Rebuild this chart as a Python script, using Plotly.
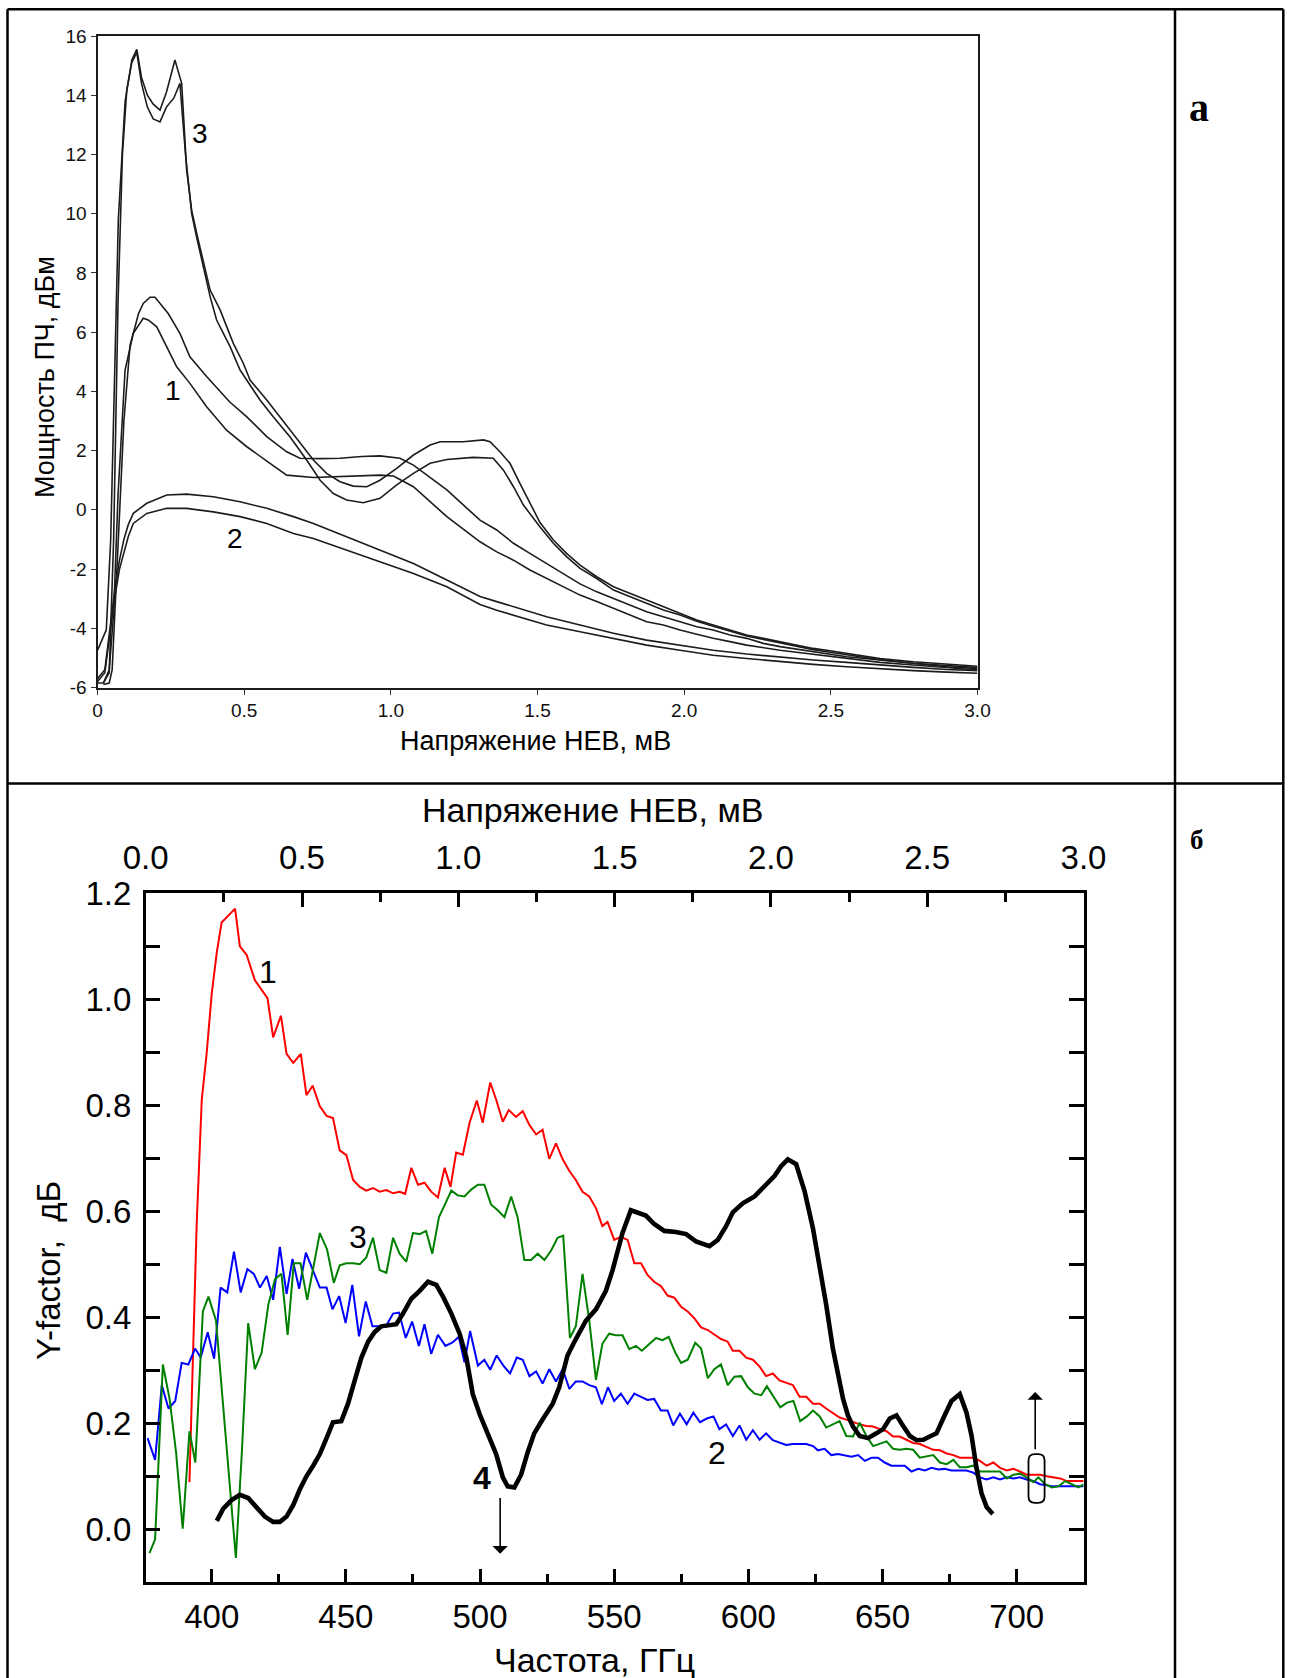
import plotly.graph_objects as go

W, H = 1290, 1678

# ---------------- panel (a): IF power vs HEB bias voltage ----------------
V_1A = [0.02, 0.04, 0.05, 0.07, 0.09, 0.111, 0.14, 0.156, 0.179, 0.196, 0.241, 0.281, 0.315, 0.372, 0.40,
        0.45, 0.509, 0.577, 0.645, 0.690, 0.760, 0.827, 0.900, 0.963, 1.031, 1.077, 1.191, 1.304, 1.361,
        1.418, 1.474, 1.531, 1.588, 1.645, 1.702, 1.759, 1.815, 1.872, 1.929, 1.986, 2.043, 2.099, 2.156,
        2.213, 2.270, 2.327, 2.440, 2.554, 2.668, 2.781, 2.895, 3.0]
P_1A = [-5.9, -5.85, -5.4, -1.0, 3.0, 5.56, 6.63, 6.97, 7.18, 7.18, 6.63, 5.96, 5.17, 4.50, 4.2,
        3.65, 3.14, 2.47, 1.96, 1.74, 1.73, 1.74, 1.80, 1.82, 1.74, 1.51, 0.67, -0.35, -0.68,
        -1.13, -1.47, -1.81, -2.15, -2.50, -2.77, -2.99, -3.22, -3.44, -3.61, -3.78, -3.95, -4.06, -4.23,
        -4.34, -4.51, -4.62, -4.79, -4.96, -5.07, -5.19, -5.30, -5.36]

V_1B = [0.02, 0.04, 0.055, 0.07, 0.094, 0.122, 0.156, 0.173, 0.202, 0.236, 0.270, 0.315, 0.349, 0.372,
        0.44, 0.509, 0.588, 0.645, 0.736, 0.850, 0.963, 1.009, 1.077, 1.191, 1.304, 1.361, 1.418, 1.474,
        1.531, 1.588, 1.645, 1.702, 1.759, 1.815, 1.872, 1.929, 1.986, 2.043, 2.099, 2.156, 2.213, 2.327,
        2.440, 2.554, 2.668, 2.781, 2.895, 3.0]
P_1B = [-5.85, -5.4, -3.5, 0.5, 4.72, 5.96, 6.47, 6.41, 6.18, 5.51, 4.83, 4.27, 3.82, 3.48,
        2.69, 2.13, 1.57, 1.17, 1.09, 1.12, 1.17, 1.14, 0.78, -0.23, -1.08, -1.42, -1.70, -2.03,
        -2.32, -2.60, -2.88, -3.10, -3.33, -3.55, -3.78, -3.89, -4.06, -4.20, -4.34, -4.45, -4.57, -4.74,
        -4.87, -5.02, -5.15, -5.24, -5.32, -5.41]

V_2A = [0.0, 0.025, 0.045, 0.06, 0.075, 0.09, 0.105, 0.122, 0.168, 0.236, 0.304, 0.395, 0.486, 0.577,
        0.668, 0.736, 0.849, 0.963, 1.077, 1.191, 1.304, 1.361, 1.418, 1.474, 1.531, 1.645, 1.759, 1.872,
        1.986, 2.099, 2.213, 2.327, 2.440, 2.554, 2.668, 2.781, 2.895, 3.0]
P_2A = [-5.7, -5.4, -3.8, -2.6, -1.7, -1.0, -0.5, -0.12, 0.22, 0.50, 0.53, 0.44, 0.27, 0.05,
        -0.23, -0.46, -0.91, -1.36, -1.81, -2.37, -2.93, -3.10, -3.27, -3.44, -3.61, -3.89, -4.17, -4.40,
        -4.57, -4.74, -4.87, -4.98, -5.07, -5.15, -5.24, -5.32, -5.39, -5.43]

V_2B = [0.0, 0.025, 0.045, 0.06, 0.075, 0.09, 0.105, 0.122, 0.168, 0.236, 0.304, 0.395, 0.486, 0.577,
        0.668, 0.736, 0.849, 0.963, 1.077, 1.191, 1.304, 1.361, 1.418, 1.474, 1.531, 1.645, 1.759, 1.872,
        1.986, 2.099, 2.213, 2.327, 2.440, 2.554, 2.668, 2.781, 2.895, 3.0]
P_2B = [-5.8, -5.5, -4.0, -2.9, -2.0, -1.4, -0.9, -0.46, -0.12, 0.05, 0.05, -0.07, -0.23, -0.46,
        -0.80, -0.97, -1.36, -1.75, -2.15, -2.60, -3.20, -3.39, -3.55, -3.72, -3.89, -4.12, -4.34, -4.57,
        -4.74, -4.91, -5.02, -5.13, -5.22, -5.30, -5.37, -5.43, -5.48, -5.52]

V_3A = [0.0, 0.03, 0.045, 0.06, 0.071, 0.094, 0.117, 0.134, 0.15, 0.17, 0.19, 0.213, 0.235, 0.264,
        0.287, 0.304, 0.321, 0.338, 0.361, 0.384, 0.418, 0.463, 0.497, 0.520, 0.577, 0.622, 0.679, 0.736,
        0.781, 0.827, 0.872, 0.918, 0.963, 1.020, 1.077, 1.134, 1.168, 1.247, 1.316, 1.338, 1.372, 1.406,
        1.440, 1.474, 1.508, 1.554, 1.599, 1.645, 1.702, 1.759, 1.815, 1.872, 1.929, 1.986, 2.043, 2.099,
        2.156, 2.213, 2.270, 2.327, 2.383, 2.440, 2.497, 2.554, 2.668, 2.781, 2.895, 3.0]
P_3A = [-4.75, -4.05, -1.0, 5.3, 9.8, 13.78, 15.19, 15.55, 14.6, 14.0, 13.7, 13.5, 14.1, 15.19,
        14.4, 11.47, 10.12, 9.34, 8.43, 7.42, 6.75, 5.62, 4.95, 4.38, 3.71, 3.14, 2.41, 1.68,
        1.23, 0.95, 0.80, 0.78, 1.0, 1.40, 1.85, 2.19, 2.30, 2.30, 2.36, 2.30, 1.96, 1.57,
        0.89, 0.25, -0.42, -1.02, -1.47, -1.87, -2.26, -2.60, -2.82, -3.05, -3.27, -3.50, -3.72, -3.89,
        -4.06, -4.23, -4.34, -4.45, -4.57, -4.68, -4.76, -4.85, -5.02, -5.13, -5.21, -5.28]

V_3B = [0.0, 0.02, 0.04, 0.055, 0.07, 0.085, 0.1, 0.117, 0.134, 0.15, 0.17, 0.19, 0.213, 0.235, 0.26,
        0.281, 0.3, 0.321, 0.338, 0.361, 0.384, 0.406, 0.452, 0.486, 0.554, 0.599, 0.656, 0.713, 0.759,
        0.804, 0.849, 0.906, 0.963, 1.020, 1.077, 1.134, 1.191, 1.281, 1.349, 1.384, 1.418, 1.452, 1.486,
        1.508, 1.554, 1.599, 1.645, 1.702, 1.759, 1.815, 1.872, 1.929, 1.986, 2.043, 2.099, 2.156, 2.213,
        2.270, 2.327, 2.383, 2.440, 2.497, 2.554, 2.668, 2.781, 2.895, 3.0]
P_3B = [-5.85, -5.85, -5.5, -1.0, 7.0, 12.0, 14.2, 15.1, 15.45, 14.4, 13.6, 13.2, 13.1, 13.6, 13.9,
        14.4, 12.0, 10.0, 9.2, 8.2, 7.2, 6.41, 5.51, 4.72, 3.71, 3.14, 2.47, 1.68, 1.0,
        0.55, 0.33, 0.24, 0.39, 0.84, 1.23, 1.57, 1.70, 1.77, 1.74, 1.34, 0.78, 0.16, -0.29,
        -0.57, -1.13, -1.58, -1.98, -2.32, -2.71, -2.93, -3.16, -3.38, -3.55, -3.76, -3.93, -4.10, -4.26,
        -4.38, -4.50, -4.61, -4.72, -4.81, -4.90, -5.06, -5.18, -5.26, -5.33]

A_XTICKS = [0, 0.5, 1.0, 1.5, 2.0, 2.5, 3.0]
A_XTEXT = ["0", "0.5", "1.0", "1.5", "2.0", "2.5", "3.0"]
A_YTICKS = [16, 14, 12, 10, 8, 6, 4, 2, 0, -2, -4, -6]
A_YTEXT = ["16", "14", "12", "10", "8", "6", "4", "2", "0", "-2", "-4", "-6"]

# ---------------- panel (б): Y-factor vs LO frequency ----------------
F_1 = [391.7, 392.2, 393.2, 394.4, 396.3, 398.1, 400.0, 401.9, 403.7, 406.2, 408.7, 410.5, 413.0, 416.1,
       418.6, 420.8, 422.9, 425.8, 427.9, 430.4, 433.2, 435.3, 437.6, 440.3, 442.8, 445.2, 447.7, 450.2,
       452.7, 455.2, 457.6, 460.1, 462.6, 465.1, 467.6, 470.0, 472.1, 474.4, 476.9, 479.3, 481.8, 484.3,
       486.8, 489.0, 491.1, 493.6, 496.1, 498.8, 501.0, 503.8, 506.0, 508.5, 510.7, 513.4, 515.9, 518.4,
       520.9, 523.3, 525.8, 528.3, 530.8, 533.3, 535.7, 538.2, 540.7, 543.2, 545.6, 547.5, 550.0, 552.5,
       555.0, 557.5, 560.0, 562.4, 564.9, 567.4, 569.9, 572.4, 574.9, 577.4, 579.9, 582.4, 584.9, 587.3,
       589.8, 592.3, 594.2, 596.7, 599.2, 601.7, 604.2, 606.6, 609.1, 611.6, 614.1, 616.6, 619.1, 621.6,
       624.1, 626.6, 629.0, 631.5, 634.0, 636.5, 639.0, 641.5, 644.0, 646.5, 649.0, 651.5, 653.9, 656.4,
       658.9, 661.4, 663.9, 666.4, 668.9, 671.4, 673.9, 676.4, 678.8, 681.3, 683.8, 686.3, 688.8, 691.3,
       693.8, 696.3, 698.8, 701.2, 703.7, 706.2, 708.7, 711.2, 713.7, 716.2, 718.7, 721.2, 725.0]
Y_1 = [0.089, 0.185, 0.359, 0.576, 0.811, 0.897, 1.010, 1.089, 1.145, 1.158, 1.171, 1.100, 1.084, 1.036,
       1.019, 1.002, 0.928, 0.969, 0.897, 0.880, 0.897, 0.819, 0.837, 0.798, 0.780, 0.776, 0.715, 0.706,
       0.659, 0.646, 0.639, 0.644, 0.637, 0.640, 0.634, 0.637, 0.633, 0.682, 0.650, 0.654, 0.637, 0.626,
       0.682, 0.646, 0.711, 0.707, 0.767, 0.809, 0.767, 0.843, 0.811, 0.769, 0.791, 0.778, 0.789, 0.763,
       0.745, 0.754, 0.699, 0.728, 0.698, 0.676, 0.659, 0.637, 0.628, 0.606, 0.572, 0.580, 0.546, 0.552,
       0.546, 0.502, 0.502, 0.480, 0.467, 0.459, 0.441, 0.437, 0.420, 0.411, 0.398, 0.381, 0.376, 0.368,
       0.359, 0.354, 0.337, 0.337, 0.324, 0.320, 0.307, 0.289, 0.294, 0.281, 0.276, 0.272, 0.250, 0.250,
       0.237, 0.237, 0.228, 0.220, 0.211, 0.207, 0.202, 0.198, 0.195, 0.194, 0.189, 0.185, 0.175, 0.175,
       0.169, 0.163, 0.161, 0.155, 0.150, 0.149, 0.143, 0.140, 0.135, 0.135, 0.135, 0.129, 0.120, 0.126,
       0.116, 0.111, 0.114, 0.109, 0.103, 0.103, 0.103, 0.100, 0.098, 0.096, 0.091, 0.091, 0.091]

F_2 = [376.1, 378.9, 381.4, 383.9, 386.4, 388.8, 391.3, 393.8, 395.9, 398.5, 400.9, 403.3, 405.8, 408.3,
       410.8, 413.3, 415.7, 418.0, 420.5, 422.9, 425.4, 427.9, 430.1, 432.6, 435.1, 437.8, 440.3, 442.8,
       445.0, 447.5, 449.9, 452.4, 454.9, 457.4, 459.9, 462.6, 465.1, 467.6, 469.8, 472.3, 474.7, 477.2,
       479.3, 481.8, 484.3, 487.1, 489.6, 492.1, 494.2, 496.3, 499.2, 501.6, 503.8, 506.2, 508.7, 511.2,
       513.7, 515.9, 518.4, 520.9, 523.3, 525.8, 528.3, 530.8, 533.3, 535.7, 538.2, 540.7, 543.2, 545.4,
       547.7, 550.0, 552.5, 555.0, 557.5, 560.0, 562.4, 564.9, 567.4, 569.9, 572.0, 574.5, 577.0, 579.5,
       582.0, 584.5, 587.0, 589.2, 591.7, 594.2, 596.7, 599.2, 601.7, 604.2, 606.6, 609.1, 611.6, 614.1,
       616.6, 619.1, 621.6, 624.1, 625.9, 628.4, 630.9, 633.4, 635.9, 638.4, 640.9, 643.4, 645.9, 648.3,
       650.8, 653.3, 655.8, 658.3, 660.8, 663.3, 665.8, 668.3, 670.8, 673.2, 675.7, 678.2, 681.3, 683.8,
       686.3, 688.8, 691.3, 693.8, 696.3, 698.8, 701.2, 703.7, 706.2, 708.7, 711.2, 713.7, 716.2, 718.7,
       725.0]
Y_2 = [0.172, 0.131, 0.272, 0.228, 0.242, 0.314, 0.311, 0.341, 0.324, 0.372, 0.322, 0.456, 0.447, 0.524,
       0.447, 0.491, 0.482, 0.456, 0.478, 0.433, 0.533, 0.444, 0.510, 0.454, 0.522, 0.489, 0.456, 0.456,
       0.415, 0.440, 0.389, 0.461, 0.364, 0.430, 0.383, 0.383, 0.385, 0.407, 0.409, 0.361, 0.392, 0.346,
       0.387, 0.331, 0.367, 0.346, 0.352, 0.363, 0.315, 0.374, 0.309, 0.320, 0.301, 0.328, 0.309, 0.294,
       0.324, 0.320, 0.289, 0.298, 0.275, 0.302, 0.279, 0.302, 0.265, 0.279, 0.279, 0.272, 0.268, 0.236,
       0.268, 0.242, 0.256, 0.237, 0.256, 0.250, 0.244, 0.246, 0.224, 0.224, 0.196, 0.218, 0.198, 0.220,
       0.202, 0.209, 0.213, 0.189, 0.198, 0.176, 0.196, 0.169, 0.187, 0.169, 0.181, 0.168, 0.163, 0.159,
       0.161, 0.161, 0.161, 0.157, 0.149, 0.152, 0.140, 0.142, 0.140, 0.137, 0.140, 0.129, 0.135, 0.135,
       0.126, 0.120, 0.120, 0.120, 0.109, 0.114, 0.111, 0.116, 0.113, 0.114, 0.111, 0.111, 0.111, 0.107,
       0.098, 0.094, 0.098, 0.094, 0.098, 0.096, 0.098, 0.094, 0.091, 0.085, 0.083, 0.081, 0.081, 0.081,
       0.081]

F_3 = [376.8, 378.9, 381.8, 384.3, 386.7, 389.2, 391.7, 393.9, 396.7, 398.8, 401.6, 404.3, 406.6, 409.0,
       411.2, 413.6, 416.1, 418.6, 421.1, 423.6, 426.0, 428.3, 430.6, 433.1, 435.6, 438.1, 440.3, 443.0,
       445.5, 447.7, 450.2, 452.7, 455.2, 457.6, 460.1, 462.6, 465.1, 467.6, 470.0, 472.5, 475.0, 477.5,
       479.9, 482.2, 484.7, 487.1, 489.3, 491.7, 494.2, 496.7, 499.2, 501.6, 504.1, 506.6, 509.1, 511.6,
       514.0, 516.5, 519.0, 521.5, 524.0, 526.5, 528.9, 531.0, 533.5, 535.7, 538.2, 540.7, 543.2, 545.6,
       548.1, 550.6, 553.1, 555.6, 558.1, 560.3, 563.1, 565.6, 568.0, 570.3, 572.8, 574.9, 577.4, 580.2,
       582.4, 584.9, 587.3, 589.8, 592.3, 594.8, 597.3, 599.8, 602.3, 604.8, 606.9, 609.4, 611.9, 614.4,
       616.8, 619.3, 621.8, 624.1, 626.6, 629.0, 631.5, 634.0, 636.5, 639.0, 641.5, 644.0, 646.5, 648.9,
       651.5, 653.9, 656.4, 658.9, 661.4, 663.9, 666.4, 668.9, 671.4, 673.9, 676.4, 678.8, 681.3, 683.8,
       686.3, 688.8, 691.3, 693.8, 696.3, 698.8, 701.2, 703.7, 706.2, 708.1, 710.6, 713.1, 715.6, 718.1,
       720.6, 723.0, 725.0]
Y_3 = [-0.045, -0.019, 0.311, 0.246, 0.146, 0.001, 0.185, 0.126, 0.411, 0.439, 0.394, 0.228, 0.098, -0.054,
       0.142, 0.389, 0.302, 0.333, 0.424, 0.472, 0.482, 0.367, 0.502, 0.502, 0.433, 0.502, 0.559, 0.528,
       0.465, 0.498, 0.502, 0.502, 0.500, 0.513, 0.550, 0.489, 0.484, 0.550, 0.520, 0.505, 0.559, 0.557,
       0.563, 0.520, 0.589, 0.615, 0.639, 0.630, 0.628, 0.641, 0.650, 0.650, 0.613, 0.602, 0.589, 0.628,
       0.589, 0.508, 0.508, 0.520, 0.508, 0.526, 0.550, 0.554, 0.361, 0.383, 0.482, 0.394, 0.282, 0.350,
       0.369, 0.366, 0.366, 0.340, 0.346, 0.337, 0.350, 0.361, 0.357, 0.363, 0.333, 0.314, 0.320, 0.352,
       0.341, 0.285, 0.302, 0.311, 0.272, 0.288, 0.289, 0.268, 0.256, 0.253, 0.270, 0.250, 0.230, 0.239,
       0.242, 0.204, 0.213, 0.224, 0.213, 0.192, 0.198, 0.204, 0.176, 0.175, 0.201, 0.176, 0.157, 0.161,
       0.166, 0.152, 0.150, 0.152, 0.150, 0.135, 0.137, 0.140, 0.126, 0.123, 0.131, 0.117, 0.117, 0.120,
       0.109, 0.109, 0.109, 0.109, 0.096, 0.103, 0.105, 0.098, 0.089, 0.098, 0.085, 0.079, 0.081, 0.091,
       0.085, 0.079, 0.085]

F_4 = [401.9, 404.3, 407.4, 410.5, 413.6, 416.7, 419.8, 422.9, 425.4, 427.9, 430.4, 432.9, 435.3, 437.8,
       440.3, 442.8, 445.2, 448.3, 450.8, 453.3, 455.8, 458.3, 460.7, 463.2, 466.3, 468.8, 471.3, 474.4,
       477.5, 480.6, 483.7, 486.2, 489.3, 492.4, 494.9, 497.3, 499.8, 502.9, 506.0, 508.5, 510.3, 512.8,
       515.3, 517.8, 520.2, 523.3, 527.1, 529.5, 532.6, 535.7, 539.5, 543.2, 546.9, 549.4, 551.9, 553.1,
       556.2, 561.8, 564.9, 568.7, 573.0, 576.8, 580.5, 585.5, 588.6, 591.7, 594.2, 597.9, 602.3, 606.0,
       609.8, 612.2, 614.7, 617.8, 621.0, 624.1, 626.6, 629.0, 631.5, 633.4, 635.3, 637.1, 639.0, 641.5,
       644.6, 647.7, 650.2, 652.7, 655.2, 657.7, 660.2, 662.7, 665.2, 667.6, 670.1, 672.6, 675.7, 678.8,
       681.3, 683.2, 685.0, 686.9, 688.8, 691.1]
Y_4 = [0.016, 0.039, 0.055, 0.065, 0.059, 0.042, 0.024, 0.014, 0.014, 0.024, 0.046, 0.076, 0.100, 0.120,
       0.142, 0.172, 0.202, 0.204, 0.237, 0.281, 0.324, 0.354, 0.372, 0.383, 0.385, 0.387, 0.407, 0.435,
       0.450, 0.467, 0.461, 0.439, 0.407, 0.369, 0.324, 0.255, 0.218, 0.181, 0.142, 0.098, 0.081, 0.079,
       0.103, 0.146, 0.181, 0.207, 0.237, 0.268, 0.328, 0.359, 0.394, 0.415, 0.450, 0.489, 0.540, 0.559,
       0.602, 0.592, 0.576, 0.563, 0.561, 0.557, 0.543, 0.534, 0.546, 0.572, 0.598, 0.615, 0.628, 0.646,
       0.667, 0.685, 0.698, 0.689, 0.637, 0.567, 0.498, 0.424, 0.341, 0.289, 0.246, 0.215, 0.194, 0.176,
       0.172, 0.181, 0.189, 0.209, 0.215, 0.195, 0.176, 0.168, 0.169, 0.175, 0.181, 0.209, 0.242, 0.255,
       0.220, 0.176, 0.116, 0.068, 0.042, 0.029]

B_FTICKS = [400, 450, 500, 550, 600, 650, 700]
B_VTICKS = [0.0, 0.5, 1.0, 1.5, 2.0, 2.5, 3.0]
B_YTICKS = [0.0, 0.2, 0.4, 0.6, 0.8, 1.0, 1.2]


def px(x):
    return x / W


def py(y):
    return 1 - y / H


SANS = "Liberation Sans, Arial, sans-serif"
SERIF = "Liberation Serif, Times New Roman, serif"
INK = "#1c1c1c"

fig = go.Figure()

# panel (a) curves
for vx, pw in [(V_1A, P_1A), (V_1B, P_1B), (V_2A, P_2A), (V_2B, P_2B), (V_3A, P_3A), (V_3B, P_3B)]:
    fig.add_trace(go.Scatter(x=vx, y=pw, mode="lines", xaxis="x", yaxis="y",
                             line=dict(color=INK, width=1.6), showlegend=False, hoverinfo="skip"))

# panel (б) curves
for fx, yv, col, lw in [(F_1, Y_1, "#ff0000", 2.0), (F_2, Y_2, "#0000ff", 2.0),
                        (F_3, Y_3, "#008000", 2.0), (F_4, Y_4, "#000000", 4.6)]:
    fig.add_trace(go.Scatter(x=fx, y=yv, mode="lines", xaxis="x2", yaxis="y2",
                             line=dict(color=col, width=lw), showlegend=False, hoverinfo="skip"))

# invisible trace so the top voltage axis of panel (б) is drawn
fig.add_trace(go.Scatter(x=[0, 3], y=[None, None], mode="lines", xaxis="x3", yaxis="y2",
                         showlegend=False, hoverinfo="skip"))

axis_a = dict(showgrid=False, zeroline=False, showline=True, linecolor=INK, linewidth=2,
              mirror=True, ticks="outside", ticklen=5, tickwidth=1, tickcolor="#333", automargin=False,
              tickfont=dict(family=SANS, size=19, color="#111"))

fig.update_layout(
    template="none",
    width=W, height=H, autosize=False,
    margin=dict(l=0, r=0, t=0, b=0, pad=0, autoexpand=False),
    paper_bgcolor="white", plot_bgcolor="white",
    xaxis=dict(domain=[px(97.5), px(977.5)], range=[0, 3], anchor="y",
               tickvals=A_XTICKS, ticktext=A_XTEXT, **axis_a),
    yaxis=dict(domain=[py(687.5), py(36)], range=[-6, 16], anchor="x",
               tickvals=A_YTICKS, ticktext=A_YTEXT, **axis_a),
    xaxis2=dict(domain=[px(145.7), px(1083.5)], range=[375.4, 724.9], anchor="y2", automargin=False,
                showgrid=False, zeroline=False, showline=True, linecolor="black", linewidth=2.5,
                ticks="inside", ticklen=14, tickwidth=2.5, tickcolor="black",
                tickvals=B_FTICKS, ticklabelstandoff=3,
                minor=dict(dtick=25, tick0=400, ticks="inside", ticklen=9, tickwidth=2.5, tickcolor="black"),
                tickfont=dict(family=SANS, size=33, color="black")),
    xaxis3=dict(overlaying="x2", side="top", range=[0, 3], anchor="y2", automargin=False,
                showgrid=False, zeroline=False, showline=True, linecolor="black", linewidth=2.5,
                ticks="inside", ticklen=14, tickwidth=2.5, tickcolor="black",
                tickvals=B_VTICKS, tickformat=".1f", ticklabelstandoff=8,
                minor=dict(dtick=0.25, tick0=0, ticks="inside", ticklen=9, tickwidth=2.5, tickcolor="black"),
                tickfont=dict(family=SANS, size=33, color="black")),
    yaxis2=dict(domain=[py(1582.3), py(893.3)], range=[-0.1, 1.2], anchor="x2", automargin=False,
                showgrid=False, zeroline=False, showline=True, linecolor="black", linewidth=2.5,
                mirror="allticks", ticks="inside", ticklen=15, tickwidth=2.5, tickcolor="black",
                tickvals=B_YTICKS, tickformat=".1f", ticklabelstandoff=5,
                minor=dict(dtick=0.1, tick0=0, ticks="inside", ticklen=9, tickwidth=2.5, tickcolor="black"),
                tickfont=dict(family=SANS, size=33, color="black")),
)

# table frame around the two panels
frame = dict(color="black", width=2.5)
for x0, y0, x1, y1 in [(7.5, 9.3, 1283.3, 9.3), (7.5, 9.3, 7.5, H), (1283.3, 9.3, 1283.3, H),
                       (1175, 9.3, 1175, H), (7.5, 783.5, 1283.3, 783.5)]:
    fig.add_shape(type="line", xref="paper", yref="paper",
                  x0=px(x0), y0=py(y0), x1=px(x1), y1=py(y1), line=frame, layer="above")


def paper_text(txt, x, y, size, family=SANS, angle=0):
    fig.add_annotation(text=txt, xref="paper", yref="paper", x=px(x), y=py(y),
                       xanchor="center", yanchor="middle", showarrow=False, textangle=angle,
                       font=dict(family=family, size=size, color="black"))


# axis titles
paper_text("Напряжение НЕВ, мВ", 535, 741, 27)
paper_text("Мощность ПЧ, дБм", 45, 377, 27, angle=-90)
paper_text("Напряжение НЕВ, мВ", 592, 810, 34)
paper_text("Частота, ГГц", 594, 1660, 34)
paper_text("Y-factor,\u00a0 дБ", 48, 1271, 33, angle=-90)

# panel letters
paper_text("<b>а</b>", 1199, 108, 40, family=SERIF)
paper_text("<b>б</b>", 1197, 840, 27, family=SERIF)

# curve numbers, panel (a)
for txt, x, y in [("3", 0.349, 12.72), ("1", 0.258, 4.04), ("2", 0.469, -0.96)]:
    fig.add_annotation(text=txt, xref="x", yref="y", x=x, y=y, showarrow=False,
                       xanchor="center", yanchor="middle",
                       font=dict(family=SANS, size=28, color="black"))

# curve numbers, panel (б)
for txt, x, y in [("1", 421.1, 1.052), ("3", 454.6, 0.552), ("2", 588.2, 0.144), ("<b>4</b>", 500.6, 0.097)]:
    fig.add_annotation(text=txt, xref="x2", yref="y2", x=x, y=y, showarrow=False,
                       xanchor="center", yanchor="middle",
                       font=dict(family=SANS, size=32, color="black"))

# arrows in panel (б)
for xt, yt, yb in [(507.5, -0.046, 0.062), (706.9, 0.259, 0.148)]:
    fig.add_annotation(text="", xref="x2", yref="y2", x=xt, y=yt, axref="x2", ayref="y2", ax=xt, ay=yb,
                       showarrow=True, arrowhead=1, arrowsize=1.6, arrowwidth=1.6, arrowcolor="black")

# rounded marker box near 707 GHz
x0, x1, y0, y1 = 704.4, 710.4, 0.050, 0.142
rx, ry = 2.4, 0.012
path = (f"M {x0 + rx},{y0} L {x1 - rx},{y0} Q {x1},{y0} {x1},{y0 + ry} "
        f"L {x1},{y1 - ry} Q {x1},{y1} {x1 - rx},{y1} L {x0 + rx},{y1} "
        f"Q {x0},{y1} {x0},{y1 - ry} L {x0},{y0 + ry} Q {x0},{y0} {x0 + rx},{y0} Z")
fig.add_shape(type="path", xref="x2", yref="y2", path=path, line=dict(color="black", width=1.8))

# page without body margin or scrollbars so the figure fills the window exactly
page_css = ("document.body.style.margin='0';document.body.style.padding='0';"
            "document.body.style.overflow='hidden';document.documentElement.style.overflow='hidden';")
fig.write_html("out.html", post_script=page_css)
